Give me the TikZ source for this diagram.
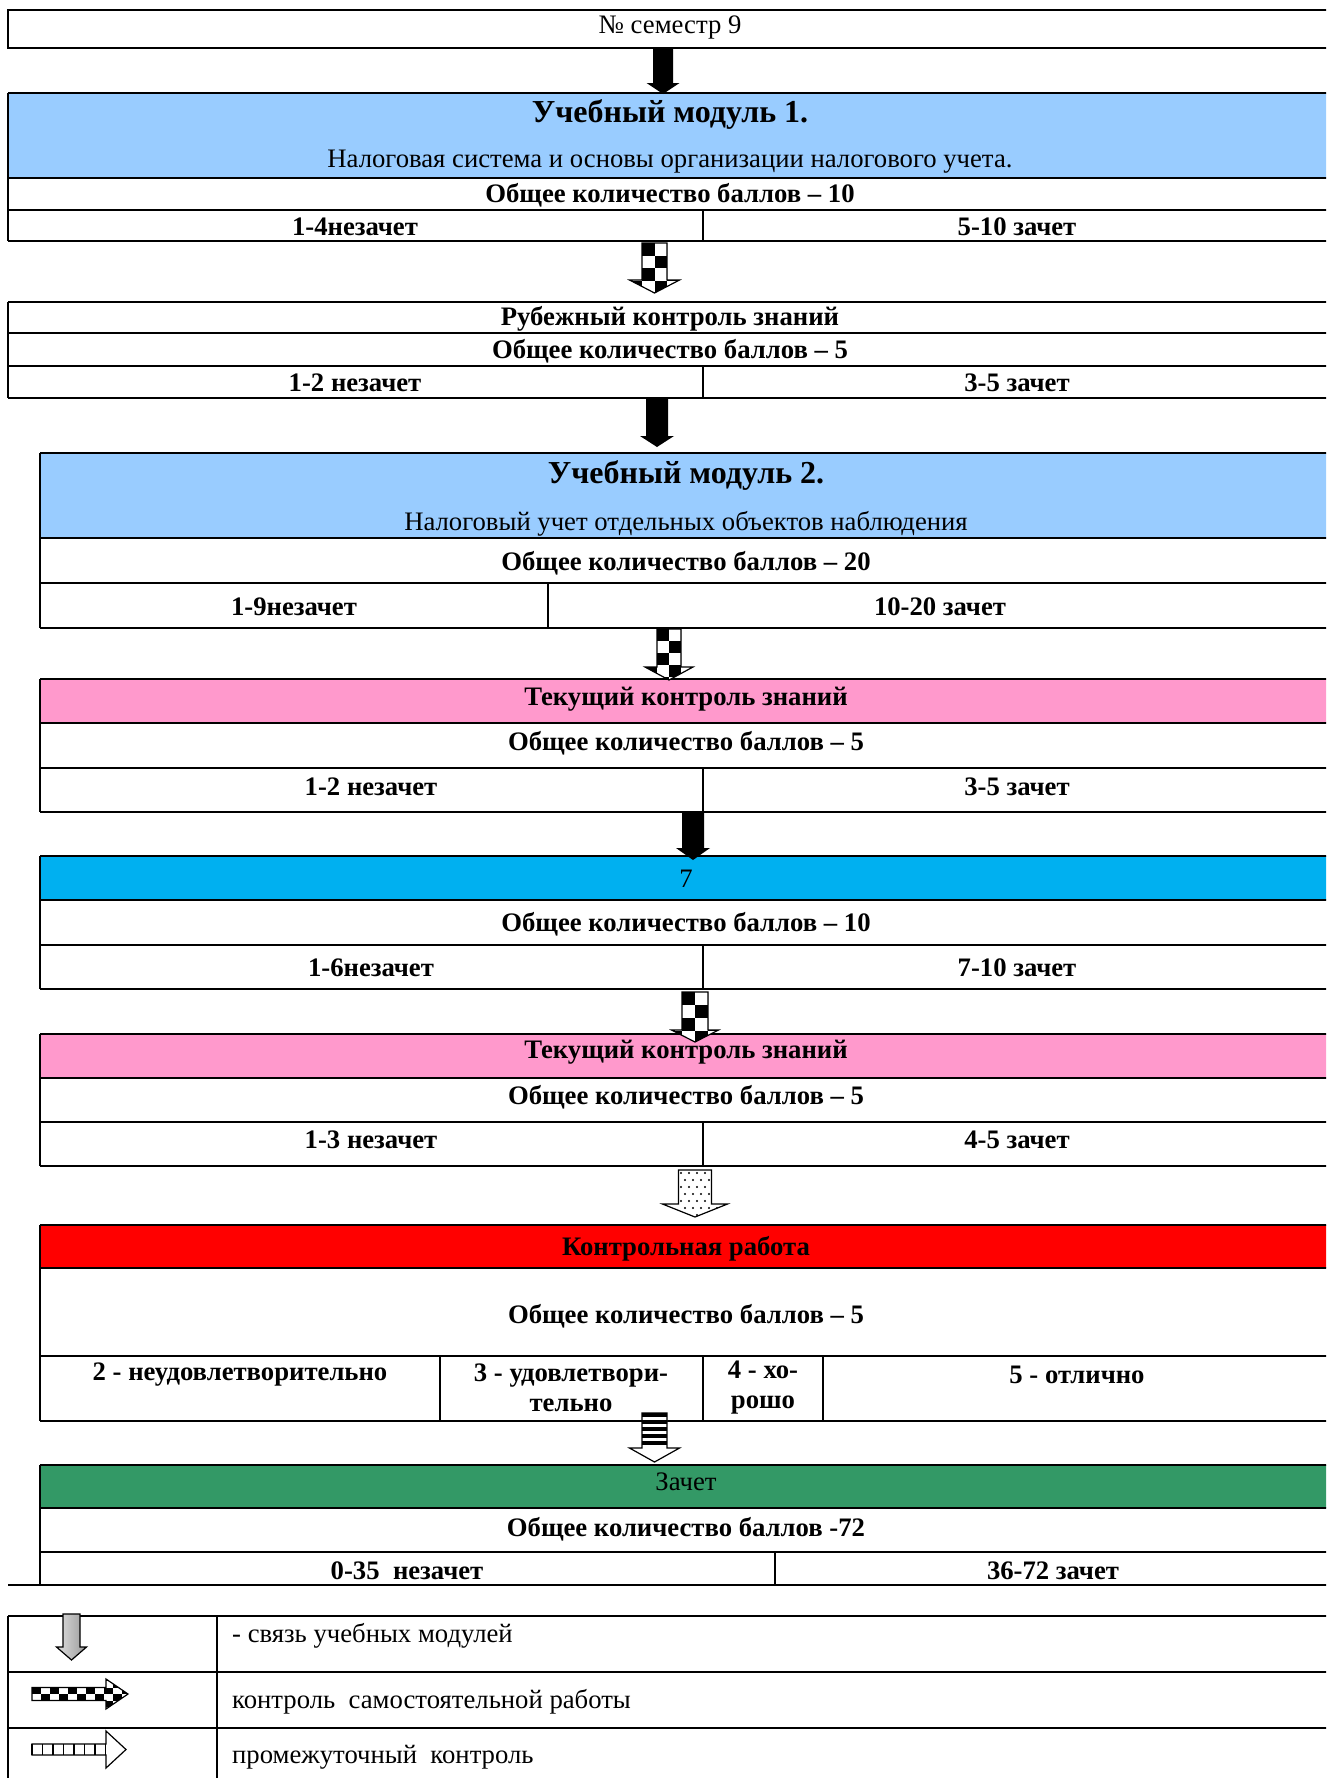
\documentclass[tikz,border=0pt]{standalone}
\usepackage{fontspec}
\setmainfont{Liberation Serif}
\definecolor{modblue}{HTML}{99CCFF}
\definecolor{tpink}{HTML}{FF99CC}
\definecolor{tcyan}{HTML}{00B0F0}
\definecolor{kred}{HTML}{FF0000}
\definecolor{zgreen}{HTML}{339966}
% vertical block arrow path: x, ytop, yhead, ytip, half shaft, half head
\newcommand\darrowpath[6]{(#1-#5,#2) -- (#1+#5,#2) -- (#1+#5,#3) -- (#1+#6,#3) -- (#1,#4) -- (#1-#6,#3) -- (#1-#5,#3) -- cycle}
% horizontal block arrow path: yc, xstart, xhead, xtip, half shaft, half head
\newcommand\harrowpath[6]{(#2,#1-#5) -- (#3,#1-#5) -- (#3,#1-#6) -- (#4,#1) -- (#3,#1+#6) -- (#3,#1+#5) -- (#2,#1+#5) -- cycle}
% checker tiles: xleft, ytop, cell, col range lo, col range hi, rows
\newcommand\chkfill[6]{%
  \foreach \ci in {#4,...,#5}{\foreach \cj in {0,...,#6}{%
    \pgfmathtruncatemacro\chkpar{mod(\ci+\cj+20,2)}%
    \ifnum\chkpar=0 \fill[black] (#1+\ci*#3,#2+\cj*#3) rectangle ++(#3,#3);\fi}}}
\newcommand\blackarrow[6]{\fill[black] \darrowpath{#1}{#2}{#3}{#4}{#5}{#6};}
\newcommand\checkarrow[7]{%
  \begin{scope}\clip \darrowpath{#1}{#2}{#3}{#4}{#5}{#6};
    \fill[white] \darrowpath{#1}{#2}{#3}{#4}{#5}{#6};
    \chkfill{#1-#5}{#2}{#7}{-3}{4}{5}\end{scope}
  \draw[line width=1.2pt, line join=miter] \darrowpath{#1}{#2}{#3}{#4}{#5}{#6};}
\begin{document}
\begin{tikzpicture}[x=1pt,y=-1pt,
  hline/.style={line width=2.4pt},
  vline/.style={line width=1.4pt},
  txt/.style={inner sep=0pt, font=\fontsize{26.7}{30}\selectfont},
  btxt/.style={inner sep=0pt, font=\fontsize{26.7}{30}\selectfont\bfseries},
  headtxt/.style={inner sep=0pt, font=\fontsize{32}{38}\selectfont\bfseries},
  ltxt/.style={inner sep=0pt, anchor=west, font=\fontsize{26.7}{30}\selectfont},
]
\useasboundingbox (0,0) rectangle (1326,1778);
\clip (0,0) rectangle (1326,1778);
\def\R{1340}
% ---------- semester box
\draw[hline] (8,10) rectangle (\R,48);
\node[txt] (sem) at (670,28) {№ семестр 9};
% ---------- module 1
\fill[modblue] (8,93) rectangle (\R,178);
\foreach \y in {93,178,210,241} \draw[hline] (8,\y) -- (\R,\y);
\draw[hline] (8,93) -- (8,241);
\draw[vline] (703,210) -- (703,241);
\node[headtxt] (m1title) at (670,114) {Учебный модуль 1.};
\node[txt] (m1sub) at (670,162) {Налоговая система и основы организации налогового учета.};
\node[btxt] (m1total) at (670,195) {Общее количество баллов – 10};
\node[btxt] (m1fail) at (355,227) {1-4незачет};
\node[btxt] (m1pass) at (1017,227) {5-10 зачет};
% ---------- rubezh
\foreach \y in {302,333,366,398} \draw[hline] (8,\y) -- (\R,\y);
\draw[hline] (8,302) -- (8,398);
\draw[vline] (703,366) -- (703,398);
\node[btxt] (rktitle) at (670,319) {Рубежный контроль знаний};
\node[btxt] (rktotal) at (670,351) {Общее количество баллов – 5};
\node[btxt] (rkfail) at (355,383) {1-2 незачет};
\node[btxt] (rkpass) at (1017,383) {3-5 зачет};
% ---------- module 2
\fill[modblue] (40,453) rectangle (\R,538);
\foreach \y in {453,538,583,628} \draw[hline] (40,\y) -- (\R,\y);
\draw[hline] (40,453) -- (40,628);
\draw[vline] (548,583) -- (548,628);
\node[headtxt] (m2title) at (686,475) {Учебный модуль 2.};
\node[txt] (m2sub) at (686,524) {Налоговый учет отдельных объектов наблюдения};
\node[btxt] (m2total) at (686,563) {Общее количество баллов – 20};
\node[btxt] (m2fail) at (294,607) {1-9незачет};
\node[btxt] (m2pass) at (940,607) {10-20 зачет};
% ---------- current control 1
\fill[tpink] (40,679) rectangle (\R,723);
\foreach \y in {679,723,768,812} \draw[hline] (40,\y) -- (\R,\y);
\draw[hline] (40,679) -- (40,812);
\draw[vline] (703,768) -- (703,812);
\node[btxt] (tk1title) at (686,699) {Текущий контроль знаний};
\node[btxt] (tk1total) at (686,743) {Общее количество баллов – 5};
\node[btxt] (tk1fail) at (371,787) {1-2 незачет};
\node[btxt] (tk1pass) at (1017,787) {3-5 зачет};
% ---------- 7
\fill[tcyan] (40,856) rectangle (\R,900);
\foreach \y in {856,900,945,989} \draw[hline] (40,\y) -- (\R,\y);
\draw[hline] (40,856) -- (40,989);
\draw[vline] (703,945) -- (703,989);
\node[txt] (sevtitle) at (686,879) {7};
\node[btxt] (sevtotal) at (686,924) {Общее количество баллов – 10};
\node[btxt] (sevfail) at (371,968) {1-6незачет};
\node[btxt] (sevpass) at (1017,968) {7-10 зачет};
% ---------- current control 2
\fill[tpink] (40,1034) rectangle (\R,1078);
\foreach \y in {1034,1078,1122,1166} \draw[hline] (40,\y) -- (\R,\y);
\draw[hline] (40,1034) -- (40,1166);
\draw[vline] (703,1122) -- (703,1166);
\node[btxt] (tk2title) at (686,1052) {Текущий контроль знаний};
\node[btxt] (tk2total) at (686,1097) {Общее количество баллов – 5};
\node[btxt] (tk2fail) at (371,1140) {1-3 незачет};
\node[btxt] (tk2pass) at (1017,1140) {4-5 зачет};
% ---------- control work
\fill[kred] (40,1225) rectangle (\R,1268);
\foreach \y in {1225,1268,1356,1421} \draw[hline] (40,\y) -- (\R,\y);
\draw[hline] (40,1225) -- (40,1421);
\foreach \x in {440,703,823} \draw[vline] (\x,1356) -- (\x,1421);
\node[btxt] (kwtitle) at (686,1249) {Контрольная работа};
\node[btxt] (kwtotal) at (686,1316) {Общее количество баллов – 5};
\node[btxt] (kw2) at (240,1375) {2 - неудовлетворительно};
\node[btxt, align=center] (kw3) at (571,1388) {3 - удовлетвори-\\тельно};
\node[btxt, align=center] (kw4) at (763,1388) {4 - хо-\\рошо};
\node[btxt] (kw5) at (1077,1375) {5 - отлично};
% ---------- zachet
\fill[zgreen] (40,1465) rectangle (\R,1508);
\foreach \y in {1465,1508,1552} \draw[hline] (40,\y) -- (\R,\y);
\draw[hline] (8,1585) -- (\R,1585);
\draw[hline] (40,1465) -- (40,1585);
\draw[vline] (775,1552) -- (775,1585);
\node[txt] (ztitle) at (686,1482) {Зачет};
\node[btxt] (ztotal) at (686,1529) {Общее количество баллов -72};
\node[btxt] (zfail) at (407,1571) {0-35\ \ незачет};
\node[btxt] (zpass) at (1053,1571) {36-72 зачет};
% ---------- block arrows between boxes
\blackarrow{663}{49}{83}{94}{10}{16.5}
\checkarrow{654.5}{243}{280}{293}{12.5}{25}{12.5}
\blackarrow{657}{399}{436}{447}{11}{17}
\checkarrow{669}{629}{667}{680}{12}{24}{12}
\blackarrow{693}{813}{848}{860}{11}{17}
\checkarrow{695}{992}{1030}{1042}{13}{23.5}{13}
% dotted arrow
\begin{scope}
  \clip \darrowpath{695}{1170}{1204}{1217}{16.5}{32.5};
  \fill[white] \darrowpath{695}{1170}{1204}{1217}{16.5}{32.5};
  \foreach \r in {0,...,6}{\foreach \c in {0,...,8}{%
    \pgfmathsetmacro\dx{681+\c*8+mod(\r,2)*4}
    \fill[black] (\dx,1173+\r*7) circle (1.2);}}
\end{scope}
\draw[line width=1.2pt, line join=miter] \darrowpath{695}{1170}{1204}{1217}{16.5}{32.5};
% striped arrow
\fill[white] \darrowpath{654.5}{1413}{1448}{1462}{12.5}{25};
\foreach \k in {0,...,4} \fill[black] (642,1413+\k*7) rectangle ++(25,3.6);
\draw[line width=1.2pt, line join=miter] \darrowpath{654.5}{1413}{1448}{1462}{12.5}{25};
% ---------- legend
\foreach \y in {1616,1672,1728} \draw[hline] (8,\y) -- (\R,\y);
\draw[line width=2pt] (8,1616) -- (8,1790);
\draw[line width=1.7pt] (217,1616) -- (217,1790);
\shade[left color=gray!25, right color=gray!80] \darrowpath{71.5}{1614}{1647}{1660}{8.5}{15};
\draw[line width=1.2pt, line join=miter] \darrowpath{71.5}{1614}{1647}{1660}{8.5}{15};
\begin{scope}
  \clip \harrowpath{1694}{32}{106}{128}{6.5}{15};
  \fill[white] \harrowpath{1694}{32}{106}{128}{6.5}{15};
  \foreach \ci in {0,...,10}{\foreach \cj in {-3,...,2}{%
    \pgfmathtruncatemacro\chkpar{mod(\ci+\cj+20,2)}%
    \ifnum\chkpar=0 \fill[black] (32+\ci*9,1687.5+\cj*6.5) rectangle ++(9,6.5);\fi}}
\end{scope}
\draw[line width=1.2pt, line join=miter] \harrowpath{1694}{32}{106}{128}{6.5}{15};
\fill[white] \harrowpath{1749.5}{32}{106}{126}{5.5}{18.5};
\foreach \k in {0,...,7} \draw[line width=1.6pt] (32+\k*10.5,1744) -- (32+\k*10.5,1755);
\draw[line width=1.2pt, line join=miter] \harrowpath{1749.5}{32}{106}{126}{5.5}{18.5};
\node[ltxt] (lg1) at (232,1636) {- связь учебных модулей};
\node[ltxt] (lg2) at (232,1702) {контроль\ \ самостоятельной работы};
\node[ltxt] (lg3) at (232,1757) {промежуточный\ \ контроль};
\end{tikzpicture}
\end{document}
